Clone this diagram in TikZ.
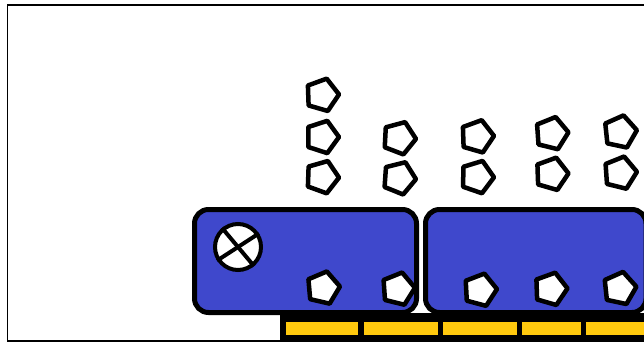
\documentclass[tikz,border=0pt]{standalone}
\usetikzlibrary{shapes.geometric}
\definecolor{boxblue}{RGB}{63,72,204}
\definecolor{bargold}{RGB}{255,201,14}
\begin{document}
\begin{tikzpicture}[x=1pt,y=-1pt,
  pent/.style={regular polygon, regular polygon sides=5, minimum size=34pt,
    inner sep=0pt, draw=black, fill=white, line width=4.5pt, line join=round, rotate=-90},
  tray/.style={draw=black, fill=boxblue, line width=5pt, rounded corners=14pt},
  seg/.style={fill=bargold},
  frameline/.style={draw=black, line width=1.5pt}]
\useasboundingbox (0,0) rectangle (644,343);
\clip (0,0) rectangle (644,343);
% outer frame
\draw[frameline] (7.5,5) rectangle (700,341);
% conveyor bar
\fill[black] (280,313) rectangle (700,340);
\fill[seg] (286,322) rectangle (358,335);
\fill[seg] (364,322) rectangle (438,335);
\fill[seg] (443,322) rectangle (517,335);
\fill[seg] (522,322) rectangle (581,335);
\fill[seg] (586,322) rectangle (700,335);
% trays
\draw[tray] (194.5,209.5) rectangle (416.5,312.5);
\draw[tray] (425.5,209.5) rectangle (646,312.5);
% cross circle
\node[circle, draw=black, fill=white, line width=4pt, minimum size=46pt, inner sep=0pt] (xc) at (238,247) {};
\draw[line width=4pt] (xc.130) -- (xc.-50);
\draw[line width=4pt] (xc.213) -- (xc.33);
% pentagons in trays
\node[pent, rotate=5] (b1) at (323,288) {};
\node[pent, rotate=4] (b2) at (398,289) {};
\node[pent, rotate=3] (b3) at (480,290) {};
\node[pent, rotate=2] (b4) at (550.5,289) {};
\node[pent, rotate=6] (b5) at (619.5,288.5) {};
% stacked pentagons above
\node[pent, rotate=2] (a1) at (322,95) {};
\node[pent, rotate=0] (a2) at (322,137) {};
\node[pent, rotate=-2] (a3) at (322,177) {};
\node[pent, rotate=-3] (c2) at (399,138) {};
\node[pent, rotate=-4] (c3) at (399,178) {};
\node[pent, rotate=2] (d2) at (477,136.5) {};
\node[pent, rotate=-1] (d3) at (477,177) {};
\node[pent, rotate=4] (e2) at (551.5,133.5) {};
\node[pent, rotate=2] (e3) at (551.5,174) {};
\node[pent, rotate=6] (f2) at (620,132) {};
\node[pent, rotate=4] (f3) at (620,173) {};
\end{tikzpicture}
\end{document}
